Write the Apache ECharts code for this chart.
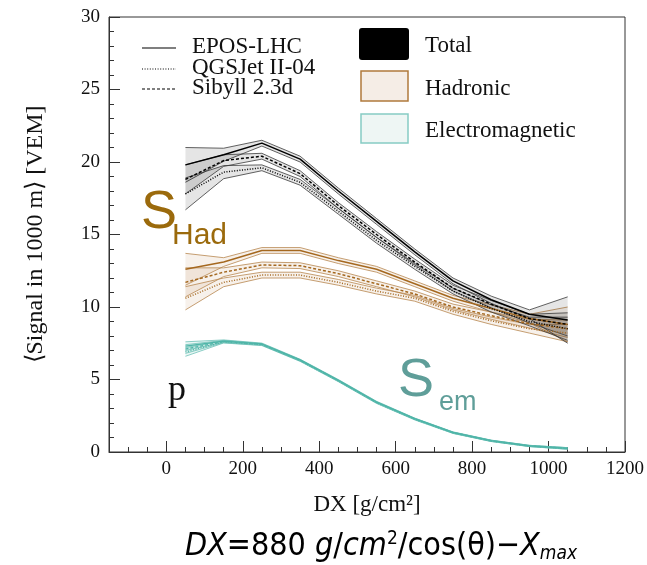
<!DOCTYPE html>
<html>
<head>
<meta charset="utf-8">
<script src="https://cdn.jsdelivr.net/npm/echarts@6/dist/echarts.min.js"></script>
<style>
  html, body { margin: 0; padding: 0; background: #fff; }
  #chart { width: 647px; height: 565px; }
</style>
</head>
<body>
<div id="chart"></div>
<script>
// DX bin centres [g/cm^2]
const dx = [50, 150, 250, 350, 450, 550, 650, 750, 850, 950, 1050];

// Total signal [VEM]
const totalEpos = [19.8, 20.5, 21.3, 20.2, 18.0, 15.9, 13.8, 11.8, 10.5, 9.5, 9.1];
const totalQgs  = [17.8, 19.3, 19.6, 18.6, 16.6, 14.6, 12.8, 11.1, 9.9, 9.0, 8.5];
const totalSib  = [18.8, 20.1, 20.4, 19.2, 17.0, 15.0, 13.1, 11.3, 10.2, 9.2, 8.8];
const totalEposErr = [1.2, 0.45, 0.2, 0.2, 0.2, 0.2, 0.2, 0.2, 0.25, 0.3, 1.6];
const totalQgsErr  = [1.1, 0.45, 0.2, 0.2, 0.2, 0.2, 0.2, 0.2, 0.25, 0.3, 0.8];
const totalSibErr  = [1.0, 0.4, 0.2, 0.2, 0.2, 0.2, 0.2, 0.2, 0.25, 0.3, 0.8];

// Hadronic signal [VEM]
const hadEpos = [12.6, 13.1, 13.9, 13.9, 13.2, 12.6, 11.6, 10.6, 9.9, 9.2, 8.8];
const hadQgs  = [10.6, 11.7, 12.2, 12.2, 11.7, 11.1, 10.6, 9.7, 9.05, 8.5, 8.2];
const hadSib  = [11.7, 12.4, 12.9, 12.85, 12.3, 11.6, 10.9, 10.0, 9.4, 8.85, 8.5];
const hadEposErr = [1.1, 0.3, 0.2, 0.2, 0.2, 0.2, 0.2, 0.2, 0.25, 0.3, 1.2];
const hadQgsErr  = [0.8, 0.3, 0.2, 0.2, 0.2, 0.2, 0.2, 0.2, 0.25, 0.3, 0.6];
const hadSibErr  = [1.0, 0.3, 0.2, 0.2, 0.2, 0.2, 0.2, 0.2, 0.25, 0.3, 0.6];

// Electromagnetic signal [VEM]
const emEpos = [7.3, 7.65, 7.45, 6.35, 4.95, 3.45, 2.3, 1.35, 0.78, 0.42, 0.25];
const emQgs  = [6.9, 7.6, 7.4, 6.3, 4.9, 3.4, 2.25, 1.32, 0.76, 0.41, 0.24];
const emSib  = [7.1, 7.62, 7.42, 6.32, 4.92, 3.42, 2.28, 1.33, 0.77, 0.42, 0.25];
const emErr  = [0.3, 0.08, 0.06, 0.05, 0.05, 0.05, 0.04, 0.04, 0.04, 0.04, 0.05];

// Axis ticks
const xMajorTicks = [0, 200, 400, 600, 800, 1000, 1200];
const xMinorTicks = [-100, -50, 50, 100, 150, 250, 300, 350, 450, 500, 550, 650, 700, 750,
                     850, 900, 950, 1050, 1100, 1150];

const serif = '"Liberation Serif", "Times New Roman", serif';
const sans = '"Liberation Sans", Arial, sans-serif';
const mathFont = '"DejaVu Sans", sans-serif';

const groups = {
  total: { line: '#000000', edge: '#3a3a3a', fill: 'rgba(0,0,0,0.10)', width: 1.5 },
  had:   { line: '#a5681f', edge: '#b8874f', fill: 'rgba(190,140,90,0.12)', width: 1.5 },
  em:    { line: '#4fb5a8', edge: '#6fc2b7', fill: 'rgba(100,190,180,0.14)', width: 1.3 }
};
const dashes = { epos: 'solid', qgs: [1, 1.6], sib: [3, 2] };

function band(values, errors, g) {
  return {
    type: 'custom',
    xAxisIndex: 0,
    yAxisIndex: 0,
    silent: true,
    z: 1,
    data: [[dx[0], values[0]]],
    renderItem: function (params, api) {
      const upper = dx.map((x, i) => api.coord([x, values[i] + errors[i]]));
      const lower = dx.map((x, i) => api.coord([x, values[i] - errors[i]]));
      const poly = upper.concat(lower.slice().reverse());
      return {
        type: 'group',
        children: [
          { type: 'polygon', shape: { points: poly }, style: { fill: g.fill, stroke: null } },
          { type: 'polyline', shape: { points: upper }, style: { stroke: g.edge, lineWidth: 0.8, fill: null } },
          { type: 'polyline', shape: { points: lower }, style: { stroke: g.edge, lineWidth: 0.8, fill: null } }
        ]
      };
    }
  };
}

function curve(values, g, dash) {
  return {
    type: 'line',
    xAxisIndex: 0,
    yAxisIndex: 0,
    symbol: 'none',
    silent: true,
    z: 3,
    data: dx.map((x, i) => [x, values[i]]),
    lineStyle: { color: g.line, width: g.width, type: dash }
  };
}

const series = [
  band(emEpos, emErr, groups.em), band(emQgs, emErr, groups.em), band(emSib, emErr, groups.em),
  band(hadEpos, hadEposErr, groups.had), band(hadQgs, hadQgsErr, groups.had), band(hadSib, hadSibErr, groups.had),
  band(totalEpos, totalEposErr, groups.total), band(totalQgs, totalQgsErr, groups.total), band(totalSib, totalSibErr, groups.total),
  curve(emEpos, groups.em, dashes.epos), curve(emQgs, groups.em, dashes.qgs), curve(emSib, groups.em, dashes.sib),
  curve(hadEpos, groups.had, dashes.epos), curve(hadQgs, groups.had, dashes.qgs), curve(hadSib, groups.had, dashes.sib),
  curve(totalEpos, groups.total, dashes.epos), curve(totalQgs, groups.total, dashes.qgs), curve(totalSib, groups.total, dashes.sib)
];

const axisColor = '#333';
const plain = v => String(v);

const option = {
  animation: false,
  backgroundColor: '#fff',
  grid: { left: 109, right: 22, top: 17, bottom: 113, show: true, borderColor: axisColor, borderWidth: 1, backgroundColor: 'transparent' },
  xAxis: [
    {
      type: 'value', min: -150, max: 1200, position: 'bottom',
      name: 'DX [g/cm²]', nameLocation: 'middle', nameGap: 41,
      nameTextStyle: { fontFamily: serif, fontSize: 23, color: '#111' },
      axisLine: { show: true, onZero: false, lineStyle: { color: axisColor, width: 1 } },
      axisTick: { show: true, inside: true, length: 11, customValues: xMajorTicks, lineStyle: { color: axisColor, width: 1 } },
      axisLabel: { customValues: xMajorTicks, formatter: plain, margin: 8, fontFamily: serif, fontSize: 19, color: '#111' },
      splitLine: { show: false }
    },
    {
      type: 'value', min: -150, max: 1200, position: 'bottom',
      axisLine: { show: false, onZero: false },
      axisTick: { show: true, inside: true, length: 5, customValues: xMinorTicks, lineStyle: { color: axisColor, width: 1 } },
      axisLabel: { show: false },
      splitLine: { show: false }
    }
  ],
  yAxis: {
    type: 'value', min: 0, max: 30, interval: 5,
    name: '⟨Signal in 1000 m⟩ [VEM]', nameLocation: 'middle', nameGap: 61,
    nameTextStyle: { fontFamily: serif, fontSize: 24, color: '#111' },
    axisLine: { show: true, onZero: false, lineStyle: { color: axisColor, width: 1 } },
    axisTick: { show: true, inside: true, length: 11, lineStyle: { color: axisColor, width: 1 } },
    minorTick: { show: true, splitNumber: 5, length: 5, lineStyle: { color: axisColor, width: 1 } },
    axisLabel: { formatter: plain, margin: 9, fontFamily: serif, fontSize: 19, color: '#111' },
    splitLine: { show: false }
  },
  series: series,
  graphic: [
    // model line-style key
    { type: 'line', shape: { x1: 142, y1: 48, x2: 176, y2: 48 }, style: { stroke: '#000', lineWidth: 1.2 } },
    { type: 'line', shape: { x1: 142, y1: 69, x2: 176, y2: 69 }, style: { stroke: '#000', lineWidth: 1.2, lineDash: [1, 1.6] } },
    { type: 'line', shape: { x1: 142, y1: 89, x2: 176, y2: 89 }, style: { stroke: '#000', lineWidth: 1.2, lineDash: [3, 2] } },
    { type: 'text', x: 192, y: 47, style: { text: 'EPOS-LHC', font: '23px ' + serif, fill: '#111', verticalAlign: 'middle' } },
    { type: 'text', x: 192, y: 68, style: { text: 'QGSJet II-04', font: '23px ' + serif, fill: '#111', verticalAlign: 'middle' } },
    { type: 'text', x: 192, y: 88, style: { text: 'Sibyll 2.3d', font: '23px ' + serif, fill: '#111', verticalAlign: 'middle' } },
    // component key
    { type: 'rect', shape: { x: 359, y: 28, width: 50, height: 32, r: 3 }, style: { fill: '#000' } },
    { type: 'rect', shape: { x: 361, y: 71, width: 47, height: 30 }, style: { fill: '#f5ede6', stroke: '#b07a3c', lineWidth: 1.5 } },
    { type: 'rect', shape: { x: 361, y: 114, width: 47, height: 29 }, style: { fill: '#eef6f4', stroke: '#86cbc3', lineWidth: 1.5 } },
    { type: 'text', x: 425, y: 46, style: { text: 'Total', font: '23px ' + serif, fill: '#111', verticalAlign: 'middle' } },
    { type: 'text', x: 425, y: 89, style: { text: 'Hadronic', font: '23px ' + serif, fill: '#111', verticalAlign: 'middle' } },
    { type: 'text', x: 425, y: 131, style: { text: 'Electromagnetic', font: '23px ' + serif, fill: '#111', verticalAlign: 'middle' } },
    // component labels
    { type: 'text', x: 141, y: 213, style: { text: 'S', font: '54px ' + sans, fill: '#9b6a0c', verticalAlign: 'middle' } },
    { type: 'text', x: 172, y: 236, style: { text: 'Had', font: '30px ' + sans, fill: '#9b6a0c', verticalAlign: 'middle' } },
    { type: 'text', x: 398, y: 381, style: { text: 'S', font: '54px ' + sans, fill: '#5f9e99', verticalAlign: 'middle' } },
    { type: 'text', x: 439, y: 403, style: { text: 'em', font: '27px ' + sans, fill: '#5f9e99', verticalAlign: 'middle' } },
    { type: 'text', x: 168, y: 391, style: { text: 'p', font: '36px ' + serif, fill: '#111', verticalAlign: 'middle' } },
    // DX definition
    {
      type: 'text', x: 381, y: 547,
      style: {
        text: '{i|DX}{n|=880 }{i|g}{n|/}{i|cm}{sup|2}{n|/cos(θ)−}{i|X}{sub|max}',
        align: 'center', verticalAlign: 'middle',
        rich: {
          i: { font: 'italic condensed 32px ' + mathFont, fill: '#000' },
          n: { font: 'condensed 32px ' + mathFont, fill: '#000' },
          sup: { font: 'condensed 19px ' + mathFont, fill: '#000', padding: [0, 0, 16, 0] },
          sub: { font: 'italic condensed 19px ' + mathFont, fill: '#000', padding: [14, 0, 0, 0] }
        }
      }
    }
  ]
};

const chart = echarts.init(document.getElementById('chart'), null, { renderer: 'canvas' });
chart.setOption(option);
</script>
</body>
</html>
